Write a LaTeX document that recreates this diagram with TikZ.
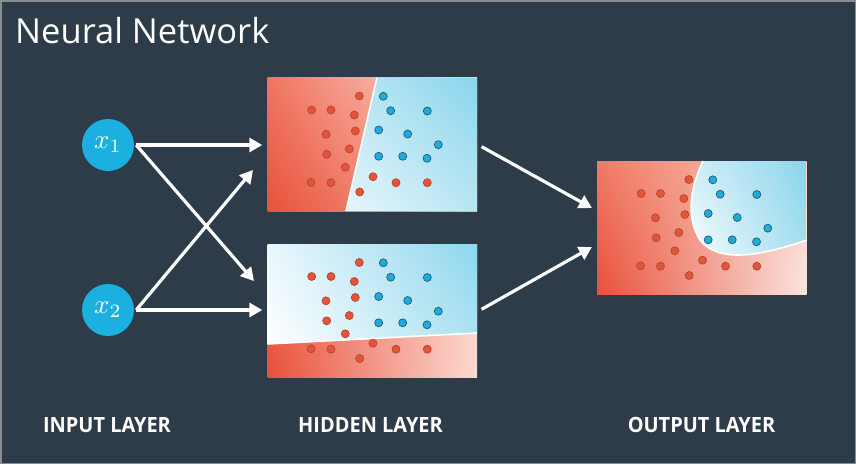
\documentclass[tikz,border=0pt]{standalone}
\usepackage{fontspec}
\setmainfont{Open Sans}
\newfontfamily\labfont[FakeStretch=0.95]{Open Sans}
\usetikzlibrary{arrows.meta,shadings}
\definecolor{bg}{HTML}{2E3B49}
\definecolor{frame}{HTML}{8A8D90}
\definecolor{inc}{HTML}{1BB0DF}
\definecolor{dotr}{HTML}{E2553B}
\definecolor{dotrl}{HTML}{B9432E}
\definecolor{dotb}{HTML}{22AADB}
\definecolor{dotbl}{HTML}{1C5E78}
% box 1
\definecolor{aRUL}{RGB}{240,117,96}\definecolor{aRUR}{RGB}{253,226,218}
\definecolor{aRLL}{RGB}{232,82,58}\definecolor{aRLR}{RGB}{246,176,162}
\definecolor{aBUL}{RGB}{216,241,249}\definecolor{aBUR}{RGB}{138,213,236}
\definecolor{aBLL}{RGB}{255,255,255}\definecolor{aBLR}{RGB}{184,230,243}
% box 2
\definecolor{bRUL}{RGB}{236,106,82}\definecolor{bRUR}{RGB}{250,208,198}
\definecolor{bRLL}{RGB}{232,80,58}\definecolor{bRLR}{RGB}{252,218,210}
\definecolor{bBUL}{RGB}{232,247,252}\definecolor{bBUR}{RGB}{143,215,237}
\definecolor{bBLL}{RGB}{255,255,255}\definecolor{bBLR}{RGB}{173,226,242}
% output box
\definecolor{cRUL}{RGB}{240,122,100}\definecolor{cRUR}{RGB}{250,213,204}
\definecolor{cRLL}{RGB}{232,80,58}\definecolor{cRLR}{RGB}{252,228,222}
\definecolor{cBUL}{RGB}{213,240,249}\definecolor{cBUR}{RGB}{140,213,236}
\definecolor{cBLL}{RGB}{255,255,255}\definecolor{cBLR}{RGB}{165,223,240}
\tikzset{
  inp/.style={circle, fill=inc, minimum size=52pt, inner sep=0pt, text=white},
  arr/.style={draw=white, line width=3.2pt, -{Triangle[length=13pt,width=14pt]}},
  boxn/.style={rectangle, minimum width=209.5pt, minimum height=133.5pt, inner sep=0pt},
  rdot/.style={fill=dotr, draw=dotrl, line width=0.7pt},
  bdot/.style={fill=dotb, draw=dotbl, line width=0.7pt},
  sep/.style={draw=white, line width=1.6pt},
  lab/.style={text=white, font=\labfont\bfseries\fontsize{21}{24}\selectfont, anchor=base},
}
\newcommand{\scatterdots}{%
  \foreach \px/\py in {91.8/18.5, 44.2/32.5, 63.5/32.5, 86.8/37.5, 58.5/56.8, 87.8/53.5, 59.2/76.8, 81.8/71.5, 77.8/89.8, 43.5/104.8, 63.5/105.2, 105.5/99.2, 128.5/105.2, 159.8/105.2, 92.2/114.5}
    {\path[rdot] (\px,\py) circle[radius=4];}
  \foreach \px/\py in {115.8/18.8, 123.2/33.2, 159.8/33.5, 111.2/52.5, 140.2/56.5, 170.8/67.2, 111.2/78.8, 135.2/78.8, 159.5/80.8}
    {\path[bdot] (\px,\py) circle[radius=4];}
}
\begin{document}
\begin{tikzpicture}[x=1pt, y=-1pt]
\useasboundingbox (0,0) rectangle (856,464);
\fill[bg] (0,0) rectangle (856,464);
\draw[frame, line width=1.5pt] (0.75,0.75) rectangle (855.25,463.25);

\node[text=white, anchor=base west, font=\fontsize{34.5}{40}\selectfont, inner sep=0pt] (title) at (15,43.5) {Neural Network};

% hidden box 1
\begin{scope}[shift={(267.5,77.5)}]
  \shade[upper left=aRUL, upper right=aRUR, lower left=aRLL, lower right=aRLR]
        (0,0) rectangle (209.5,133.5);
  \begin{scope}
    \clip (109.5,0) -- (209.5,0) -- (209.5,133.5) -- (78.5,133.5) -- cycle;
    \shade[upper left=aBUL, upper right=aBUR, lower left=aBLL, lower right=aBLR]
          (0,0) rectangle (209.5,133.5);
  \end{scope}
  \draw[sep] (109.5,0) -- (78.5,133.5);
  \scatterdots
\end{scope}
\node[boxn] (h1) at (372.25,144.25) {};

% hidden box 2
\begin{scope}[shift={(267.5,244)}]
  \shade[upper left=bRUL, upper right=bRUR, lower left=bRLL, lower right=bRLR]
        (0,0) rectangle (209.5,133.5);
  \begin{scope}
    \clip (0,0) -- (209.5,0) -- (209.5,89) -- (0,100) -- cycle;
    \shade[upper left=bBUL, upper right=bBUR, lower left=bBLL, lower right=bBLR]
          (0,0) rectangle (209.5,100);
  \end{scope}
  \draw[sep] (0,100) -- (209.5,89);
  \scatterdots
\end{scope}
\node[boxn] (h2) at (372.25,310.75) {};

% output box
\begin{scope}[shift={(597,161)}]
  \shade[upper left=cRUL, upper right=cRUR, lower left=cRLL, lower right=cRLR]
        (0,0) rectangle (209.5,133.5);
  \begin{scope}
    \clip (106,0) .. controls (94,25) and (88,55) .. (103,79) .. controls (118,98) and (150,100) .. (209.5,79) -- (209.5,0) -- cycle;
    \shade[upper left=cBUL, upper right=cBUR, lower left=cBLL, lower right=cBLR]
          (85,0) rectangle (209.5,100);
  \end{scope}
  \draw[sep] (106,0) .. controls (94,25) and (88,55) .. (103,79) .. controls (118,98) and (150,100) .. (209.5,79);
  \scatterdots
\end{scope}
\node[boxn] (out) at (701.75,227.75) {};

% inputs
\node[inp] (x1) at (108,145) {\scalebox{2.7}{$x_1$}};
\node[inp] (x2) at (108,310) {\scalebox{2.7}{$x_2$}};

\coordinate (c1) at (254,281);
\coordinate (c2) at (253,170);
\coordinate (o1) at (592,208);
\coordinate (o2) at (592,247);

\draw[arr, shorten >=5pt] ([xshift=2pt]x1.east) -- (x1.east -| h1.west);
\draw[arr] ([xshift=2pt]x1.east) -- (c1);
\draw[arr, shorten >=5pt] ([xshift=2pt]x2.east) -- (x2.east -| h2.west);
\draw[arr] ([xshift=2pt]x2.east) -- (c2);
\draw[arr, shorten <=5pt] (h1.east) -- (o1);
\draw[arr, shorten <=5pt] ([yshift=-1pt]h2.east) -- (o2);

\node[lab] (l1) at (107,432) {INPUT LAYER};
\node[lab] (l2) at (370.5,432) {HIDDEN LAYER};
\node[lab] (l3) at (701.5,432) {OUTPUT LAYER};
\end{tikzpicture}
\end{document}
